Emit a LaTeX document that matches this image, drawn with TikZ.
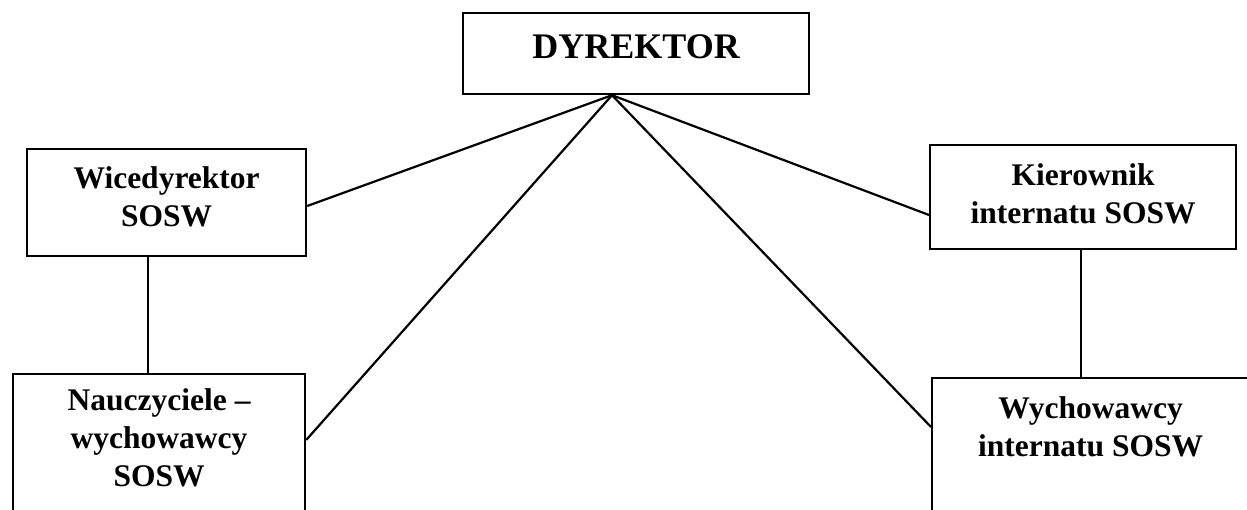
\documentclass[tikz,border=0pt]{standalone}
\usepackage{fontspec}
\setmainfont{Liberation Serif}
\usetikzlibrary{calc}
\begin{document}
\begin{tikzpicture}[x=1pt,y=-1pt,
  box/.style={draw, line width=2.2pt, inner sep=0pt, anchor=north west, align=center,
    font=\fontsize{31.5}{38}\selectfont\bfseries},
  conn/.style={line width=2.2pt}]
\useasboundingbox (0,0) rectangle (1247,510);
\clip (0,0) rectangle (1247,510);
\fill[white] (0,0) rectangle (1247,510);
% boxes: text height = offset of last baseline from top
\node[box, font=\fontsize{36}{40}\selectfont\bfseries, minimum width=346pt, text height=45pt, text depth=36pt] (dyr) at (462,12) {DYREKTOR};
\node[box, minimum width=279pt, text height=77pt, text depth=30pt] (wice) at (26,148) {Wicedyrektor\\SOSW};
\node[box, minimum width=292pt, text height=112pt, text depth=40pt] (naucz) at (12,373) {Nauczyciele –\\wychowawcy\\SOSW};
\node[box, minimum width=306pt, text height=78pt, text depth=26pt] (kier) at (929,144) {Kierownik\\internatu SOSW};
\node[box, minimum width=317pt, text height=78pt, text depth=70pt] (wych) at (931,377) {Wychowawcy\\internatu SOSW};
% connectors
\coordinate (apex) at ($(dyr.south west)+(150,0)$);
\draw[conn] (apex) -- ($(wice.north east)+(0,58)$);
\draw[conn] (apex) -- ($(naucz.north east)+(0,67)$);
\draw[conn] (apex) -- ($(kier.north west)+(0,71)$);
\draw[conn] (apex) -- ($(wych.north west)+(0,50)$);
\coordinate (wv) at ($(wice.south west)+(122,0)$);
\draw[conn] (wv) -- (wv |- naucz.north);
\coordinate (kv) at ($(kier.south west)+(152,0)$);
\draw[conn] (kv) -- (kv |- wych.north);
\end{tikzpicture}
\end{document}
